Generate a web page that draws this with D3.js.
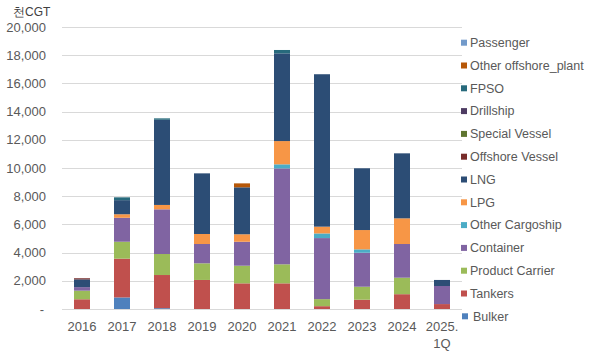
<!DOCTYPE html>
<html>
<head>
<meta charset="utf-8">
<script src="https://cdn.jsdelivr.net/npm/d3@7"></script>
<style>
  body { margin: 0; background: #fff; }
  text { font-family: "Liberation Sans", Arial, sans-serif; fill: #595959; }
</style>
</head>
<body>
<div class="chart"></div>
<script>
var width = 602, height = 363;

// categories
var years = ["2016", "2017", "2018", "2019", "2020", "2021", "2022", "2023", "2024", "2025.|1Q"];

// series values (천CGT)
var bulker          = [0, 820, 60, 0, 0, 0, 0, 0, 0, 0];
var tankers         = [690, 2750, 2350, 2060, 1820, 1820, 200, 660, 1050, 350];
var productCarrier  = [610, 1200, 1490, 1180, 1250, 1350, 500, 920, 1170, 0];
var container       = [250, 1700, 3170, 1370, 1700, 6800, 4330, 2410, 2390, 1280];
var otherCargoship  = [0, 0, 0, 0, 0, 290, 330, 240, 0, 0];
var lpg             = [0, 250, 310, 710, 530, 1650, 480, 1370, 1820, 0];
var lng             = [550, 1000, 6040, 4300, 3330, 6220, 10810, 4380, 4610, 430];
var offshoreVessel  = [80, 0, 0, 0, 0, 0, 0, 0, 0, 0];
var specialVessel   = [0, 0, 0, 0, 0, 0, 0, 0, 0, 0];
var drillship       = [0, 0, 0, 0, 0, 0, 0, 0, 0, 0];
var fpso            = [0, 200, 100, 0, 0, 240, 0, 0, 0, 0];
var otherOffshore   = [0, 0, 0, 0, 280, 0, 0, 0, 0, 0];
var passenger       = [0, 0, 0, 0, 0, 0, 0, 0, 0, 0];

// tick labels
var yTicks = [0, 2000, 4000, 6000, 8000, 10000, 12000, 14000, 16000, 18000, 20000];

// stacking order, bottom to top
var series = [
  {key: "Bulker", values: bulker, color: "#4f81bd"},
  {key: "Tankers", values: tankers, color: "#c0504d"},
  {key: "Product Carrier", values: productCarrier, color: "#9bbb59"},
  {key: "Container", values: container, color: "#8064a2"},
  {key: "Other Cargoship", values: otherCargoship, color: "#4bacc6"},
  {key: "LPG", values: lpg, color: "#f79646"},
  {key: "LNG", values: lng, color: "#2c4d75"},
  {key: "Offshore Vessel", values: offshoreVessel, color: "#772c2a"},
  {key: "Special Vessel", values: specialVessel, color: "#5f7530"},
  {key: "Drillship", values: drillship, color: "#4d3b62"},
  {key: "FPSO", values: fpso, color: "#276a7c"},
  {key: "Other offshore_plant", values: otherOffshore, color: "#b65708"},
  {key: "Passenger", values: passenger, color: "#729aca"}
];

var table = years.map(function(y, i){
  var row = {year: y};
  series.forEach(function(s){ row[s.key] = s.values[i]; });
  return row;
});

var margin = {left: 62, right: 140, top: 27, bottom: 54};

var svg = d3.select(".chart").append("svg")
    .attr("width", width)
    .attr("height", height);

var x = d3.scaleBand()
    .domain(years)
    .range([margin.left, margin.left + 400])
    .paddingInner(0.6)
    .paddingOuter(0.3);

var y = d3.scaleLinear()
    .domain([0, 20000])
    .range([309, 27]);

// gridlines
svg.selectAll(".grid")
    .data(yTicks)
  .enter().append("line")
    .attr("class", "grid")
    .attr("x1", margin.left)
    .attr("x2", margin.left + 400)
    .attr("y1", function(d){ return Math.round(y(d)) + 0.5; })
    .attr("y2", function(d){ return Math.round(y(d)) + 0.5; })
    .attr("stroke", "#d9d9d9")
    .attr("stroke-width", 1);

// y labels
svg.selectAll(".y-label")
    .data(yTicks)
  .enter().append("text")
    .attr("class", "y-label")
    .attr("x", function(d){ return d == 0 ? 44 : 46; })
    .attr("y", function(d){ return y(d); })
    .attr("dy", "0.35em")
    .style("text-anchor", "end")
    .style("font-size", "13px")
    .text(function(d){ return d == 0 ? "-" : d3.format(",")(d); });

svg.append("text")
    .attr("x", 13)
    .attr("y", 16)
    .style("font-size", "12px")
    .style("fill", "#404040")
    .text("천CGT");

// stacked bars
var stack = d3.stack().keys(series.map(function(s){ return s.key; }));
var stacked = stack(table);

var layer = svg.selectAll(".layer")
    .data(stacked)
  .enter().append("g")
    .attr("class", "layer")
    .attr("fill", function(d, i){ return series[i].color; });

layer.selectAll("rect")
    .data(function(d){ return d; })
  .enter().append("rect")
    .attr("x", function(d){ return x(d.data.year); })
    .attr("width", x.bandwidth())
    .attr("y", function(d){ return y(d[1]); })
    .attr("height", function(d){ return y(d[0]) - y(d[1]); });

// x labels
var xl = svg.selectAll(".x-label")
    .data(years)
  .enter().append("text")
    .attr("class", "x-label")
    .attr("x", function(d){ return x(d) + x.bandwidth() / 2; })
    .attr("y", 331)
    .style("text-anchor", "middle")
    .style("font-size", "13px");

xl.selectAll("tspan")
    .data(function(d){ return d.split("|"); })
  .enter().append("tspan")
    .attr("x", function(){ var p = this.parentNode.__data__; return x(p) + x.bandwidth() / 2; })
    .attr("dy", function(d, i){ return i == 0 ? 0 : 17; })
    .text(function(d){ return d; });

// legend, top item is the last series
var legendItems = series.slice().reverse();
var legend = svg.selectAll(".legend-item")
    .data(legendItems)
  .enter().append("g")
    .attr("class", "legend-item")
    .attr("transform", function(d, i){ return "translate(461," + (42.7 + i * 22.8) + ")"; });

legend.append("rect")
    .attr("x", function(d){ return d.key == "Bulker" ? 1 : 0; })
    .attr("y", -3)
    .attr("width", 6)
    .attr("height", 6)
    .attr("fill", function(d){ return d.color; });

legend.append("text")
    .attr("x", function(d){ return d.key == "Bulker" ? 12 : 9; })
    .attr("dy", "0.35em")
    .style("font-size", "12.5px")
    .text(function(d){ return d.key; });
</script>
</body>
</html>
